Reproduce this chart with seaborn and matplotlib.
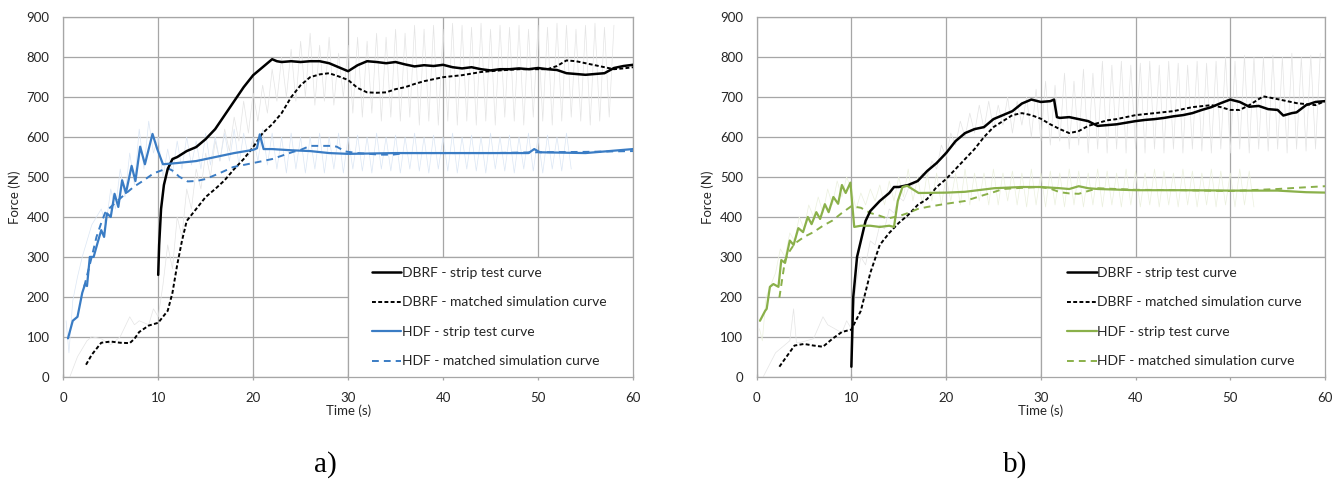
import numpy as np
import pandas as pd
import matplotlib
matplotlib.use("Agg")
import matplotlib.pyplot as plt
from matplotlib.lines import Line2D
from matplotlib.patches import Rectangle
import seaborn as sns

# ---------------- data ----------------
# Panel a)
a_dbrf_strip_t = [10, 10.1, 10.3, 10.6, 11, 11.5, 12, 13, 14, 15, 16, 17, 18, 19, 20, 21, 22, 22.5, 23, 24,
                  25, 26, 27, 28, 29, 30, 31, 32, 33, 34, 35, 36, 37, 38, 39, 40, 41, 42, 43, 44, 45, 46, 47,
                  48, 49, 50, 51, 52, 53, 54, 55, 56, 57, 58, 59, 60]
a_dbrf_strip_f = [255, 330, 420, 480, 520, 545, 550, 565, 575, 595, 620, 655, 690, 725, 755, 775, 795, 790, 788, 790,
                  788, 790, 790, 785, 775, 765, 780, 790, 788, 785, 788, 782, 777, 780, 778, 781, 775, 772, 775,
                  770, 767, 770, 770, 772, 770, 773, 770, 768, 760, 758, 756, 758, 760, 773, 778, 781]

a_dbrf_sim_t = [2.4, 3, 4, 5, 6, 7, 7.5, 8, 9, 10, 11, 11.5, 12, 12.5, 13, 14, 15, 16, 17, 18, 19, 20, 21, 22,
                23, 24, 25, 26, 27, 28, 29, 30, 31, 32, 33, 34, 35, 36, 37, 38, 39, 40, 42, 44, 46, 48, 50, 51,
                52, 53, 54, 55, 56, 57, 58, 59, 60]
a_dbrf_sim_f = [30, 55, 85, 88, 85, 84, 95, 112, 128, 135, 165, 210, 280, 340, 390, 420, 450, 470, 492, 520, 545,
                575, 610, 632, 660, 700, 730, 750, 757, 760, 752, 743, 723, 712, 711, 712, 720, 725, 733, 740,
                745, 750, 755, 763, 767, 770, 770, 770, 778, 792, 790, 785, 780, 775, 770, 772, 775]

a_hdf_strip_t = [0.5, 1, 1.5, 2, 2.3, 2.5, 2.8, 3.2, 3.6, 4, 4.3, 4.6, 5, 5.4, 5.8, 6.2, 6.6, 7.2, 7.6, 8.1, 8.6,
                 9.4, 9.9, 10.5, 12, 14, 16, 18, 20, 20.4, 20.7, 21.1, 22, 24, 26, 28, 30, 35, 40, 45, 49, 49.6,
                 50.2, 55, 60]
a_hdf_strip_f = [96, 140, 150, 210, 232, 227, 300, 300, 334, 367, 350, 409, 400, 458, 425, 492, 460, 528, 490, 576,
                 532, 608, 570, 532, 535, 540, 550, 560, 568, 572, 607, 570, 570, 567, 565, 560, 558, 560, 560,
                 560, 560, 570, 562, 560, 570]

a_hdf_sim_t = [2.2, 3, 3.5, 4, 4.4, 5, 5.6, 6.5, 7.4, 8.5, 9.5, 10.5, 11, 11.6, 12.2, 13.1, 14, 15, 16.5, 17.9,
               20, 22, 24.2, 25, 26, 27, 28.3, 28.8, 29.7, 31, 33.4, 34.7, 36, 40, 45, 50, 55, 60]
a_hdf_sim_f = [225, 300, 350, 385, 410, 425, 438, 457, 475, 492, 509, 518, 522, 515, 501, 489, 490, 495, 510, 525,
               535, 545, 563, 568, 578, 578, 578, 576, 564, 560, 556, 556, 560, 560, 560, 562, 563, 565]

# faint raw records (panel a): early points with their times, then samples every 0.5 s from 10.5 s
a_raw_dbrf_t0 = [0.7, 1.5, 2.5, 3, 4, 5, 6, 7, 7.5, 8, 9, 9.5, 10]
a_raw_dbrf_f = [0, 50, 90, 100, 95, 80, 100, 150, 130, 140, 130, 170, 150,
                230, 330, 270, 400, 350, 470, 420, 520, 470, 560, 500, 590, 540, 620, 565, 650, 590, 690, 610,
                710, 640, 730, 660, 770, 690, 800, 700, 820, 690, 840, 700, 860, 680, 830, 690, 850, 680, 810,
                700, 830, 660, 850, 650, 840, 660, 860, 640, 850, 650, 870, 640, 860, 650, 880, 630, 870, 640,
                880, 630, 870, 640, 885, 630, 880, 640, 875, 630, 885, 640, 870, 630, 880, 650, 875, 640, 880,
                630, 870, 650, 880, 640, 875, 630, 885, 640, 880, 650, 870, 640, 880, 630, 885, 640, 875, 650,
                880]
a_raw_hdf_t0 = [0.3, 0.6, 1.0, 1.5, 2.0, 2.5, 3.0, 3.5, 4.0, 4.5, 5.0, 5.5, 6.0, 6.5, 7.0, 7.5, 8.0, 8.5, 9.0,
                9.5, 10.0]
a_raw_hdf_f = [140, 60, 190, 250, 300, 340, 380, 400, 420, 380, 470, 420, 520, 450, 560, 480, 620, 520, 640, 560,
               600,
               500, 570, 510, 590, 520, 600, 530, 590, 520, 610, 530, 600, 540, 610, 540, 620, 530, 610, 550,
               600, 540, 620, 530, 610, 520, 600, 510, 610, 520, 600, 510, 600, 520, 610, 510, 600, 520, 610,
               510, 600, 520, 605, 515, 600, 510, 610, 520, 600, 515, 605, 510, 600, 520, 610, 515, 600, 510,
               605, 520, 600, 515, 610, 510, 600, 520, 605, 515, 600, 510, 610, 520, 600, 515, 605, 510, 600,
               520, 610, 515, 600, 510, 605, 520, 600, 515, 610, 520]

# Panel b)
b_dbrf_strip_t = [10, 10.2, 10.6, 11, 11.5, 12, 13, 14, 14.5, 15, 16, 17, 18, 19, 20, 21, 22, 23, 24, 25, 26, 27,
                  28, 29, 30, 31, 31.4, 31.7, 32, 33, 34, 35, 36, 37, 38, 39, 40, 41, 42, 43, 44, 45, 46, 47, 48,
                  49, 50, 51, 52, 53, 54, 55, 55.6, 56.5, 57, 58, 59, 60]
b_dbrf_strip_f = [25, 200, 300, 340, 390, 415, 440, 460, 475, 475, 480, 490, 515, 535, 560, 590, 610, 620, 625, 645,
                  655, 665, 684, 694, 688, 690, 694, 650, 648, 650, 645, 640, 628, 630, 632, 636, 640, 643, 645,
                  648, 652, 655, 660, 668, 675, 685, 694, 688, 676, 678, 670, 668, 654, 660, 662, 680, 688, 690]

b_dbrf_sim_t = [2.4, 3, 4, 5, 6, 7, 8, 9, 10, 11, 12, 13, 14, 15, 16, 17, 18, 19, 20, 21, 22, 23, 24, 25, 26, 27,
                28, 29, 30, 31, 32, 33, 34, 35, 36, 37, 38, 40, 42, 44, 46, 48, 49, 50, 51, 52, 53, 53.5, 55, 57,
                59, 60]
b_dbrf_sim_f = [25, 45, 78, 82, 78, 75, 95, 112, 118, 165, 260, 330, 360, 385, 405, 430, 445, 475, 495, 520, 545,
                570, 600, 625, 640, 655, 660, 655, 646, 632, 620, 610, 615, 628, 635, 642, 645, 655, 660, 665,
                675, 680, 675, 668, 668, 680, 695, 702, 695, 685, 680, 690]

b_hdf_strip_t = [0.35, 0.9, 1.06, 1.4, 1.77, 2.3, 2.6, 3.0, 3.5, 3.9, 4.4, 4.9, 5.4, 5.8, 6.3, 6.7, 7.2, 7.6,
                 8.1, 8.6, 9.0, 9.4, 9.9, 10.3, 11, 12, 13, 14, 14.5, 14.9, 15.4, 15.9, 17.1, 20.1, 22, 25.1, 28,
                 30, 32, 33, 34, 35, 36, 40, 45, 50, 55, 58, 60]
b_hdf_strip_f = [140, 165, 170, 225, 232, 225, 292, 285, 341, 330, 372, 362, 400, 382, 412, 395, 432, 412, 450,
                 433, 480, 460, 486, 375, 378, 378, 375, 378, 375, 440, 475, 478, 460, 461, 463, 472, 475, 475,
                 472, 470, 477, 472, 470, 467, 467, 466, 466, 462, 461]

b_hdf_sim_t = [2.4, 3, 3.5, 4, 5, 6, 7, 8, 9, 10, 11, 12, 13, 13.8, 15, 16, 17, 18, 20, 22, 24, 25, 26, 28,
               29.9, 31, 32, 33, 34, 35, 36, 38, 40, 45, 50, 55, 57, 60]
b_hdf_sim_f = [198, 292, 315, 333, 350, 362, 378, 391, 410, 427, 423, 410, 403, 396, 402, 410, 420, 425, 433, 440,
               455, 462, 470, 473, 475, 471, 462, 459, 458, 465, 472, 470, 468, 467, 465, 470, 473, 477]

# faint raw records (panel b)
b_raw_dbrf_t0 = [0.7, 2, 3.5, 3.9, 4.2, 4.5, 6, 7, 7.5, 9, 9.5, 10]
b_raw_dbrf_f = [0, 60, 90, 170, 85, 85, 95, 150, 130, 110, 140, 120,
                230, 300, 280, 340, 330, 380, 370, 420, 410, 450, 440, 470, 480, 490, 510, 500, 540, 520, 580,
                550, 610, 580, 640, 600, 660, 610, 680, 620, 690, 620, 680, 630, 700, 610, 690, 630, 700, 600,
                720, 590, 740, 580, 730, 590, 760, 570, 740, 580, 770, 560, 760, 570, 790, 560, 780, 570, 790,
                560, 780, 570, 785, 560, 790, 570, 780, 560, 790, 570, 785, 560, 780, 570, 790, 565, 785, 560,
                790, 570, 800, 560, 790, 570, 805, 560, 800, 570, 800, 565, 805, 570, 800, 560, 810, 570, 800,
                565, 805, 570, 810]
b_raw_hdf_t0 = [0.3, 0.6, 1.0, 1.5, 2.0, 2.5, 3.0, 3.5, 4.0, 4.5, 5.0, 5.5, 6.0, 6.5, 7.0, 7.5, 8.0, 8.5, 9.0,
                9.5, 10.0]
b_raw_hdf_f = [120, 90, 200, 230, 260, 320, 300, 360, 340, 400, 370, 430, 400, 450, 410, 470, 430, 490, 450, 500,
               470,
               420, 460, 430, 470, 440, 480, 430, 490, 440, 500, 450, 520, 440, 500, 430, 510, 440, 510, 430,
               500, 440, 510, 430, 520, 430, 510, 440, 510, 430, 520, 430, 510, 440, 515, 430, 510, 425, 520,
               430, 510, 425, 515, 430, 510, 425, 520, 430, 515, 425, 510, 430, 520, 425, 515, 430, 510, 425,
               520, 430, 515, 425, 510, 430, 520, 425, 515, 430, 510, 425, 520, 430, 515, 425, 510, 430, 520,
               425, 515, 430, 510, 425, 520, 430, 515, 425]

legend_labels = ["DBRF - strip test curve", "DBRF - matched simulation curve",
                 "HDF - strip test curve", "HDF - matched simulation curve"]
x_ticks = [0, 10, 20, 30, 40, 50, 60]
y_ticks = [0, 100, 200, 300, 400, 500, 600, 700, 800, 900]


def raw_times(t0, f):
    n = len(f) - len(t0)
    return list(t0) + [10.5 + 0.5 * i for i in range(n)]


# ---------------- styling ----------------
sns.set_theme(style="white")
plt.rcParams['font.family'] = ['Lato', 'DejaVu Sans']

BLUE = "#3a7cc4"
GREEN = "#8ab04a"
GRID = "#a6a6a6"
TEXT = "#262626"
DASH_DBRF = (0, (2.0, 1.2))
DASH_HDF = (0, (3.5, 2.6))

fig = plt.figure(figsize=(13.43, 4.83), dpi=100)
axL = fig.add_axes([0.0471, 0.2201, 0.4242, 0.7441])
axR = fig.add_axes([0.5634, 0.2201, 0.4232, 0.7441])


def line(ax, t, f, **kw):
    df = pd.DataFrame({"t": t, "f": f})
    sns.lineplot(data=df, x="t", y="f", ax=ax, sort=False, estimator=None, **kw)


def panel(ax, raw_dt0, raw_df, raw_ht0, raw_hf, dst, dsf, dmt, dmf, hst, hsf, hmt, hmf, col, rawcol,
          leg_x):
    line(ax, raw_times(raw_dt0, raw_df), raw_df, color="#e4e4e4", lw=0.5, zorder=1)
    line(ax, raw_times(raw_ht0, raw_hf), raw_hf, color=rawcol, lw=0.5, zorder=1)
    line(ax, dmt, dmf, color="black", lw=1.4, linestyle=DASH_DBRF, zorder=4)
    line(ax, hmt, hmf, color=col, lw=1.4, linestyle=DASH_HDF, zorder=4)
    line(ax, dst, dsf, color="black", lw=1.8, zorder=5)
    line(ax, hst, hsf, color=col, lw=1.6, zorder=5)

    ax.set_xlim(0, 60)
    ax.set_ylim(0, 900)
    ax.set_xticks(x_ticks)
    ax.set_yticks(y_ticks)
    ax.grid(True, color=GRID, lw=0.9, zorder=0)
    ax.set_axisbelow(True)
    for s in ax.spines.values():
        s.set_color(GRID)
        s.set_linewidth(0.9)
    ax.tick_params(axis="x", bottom=True, length=5, width=0.9, color=GRID, labelsize=9.5,
                   labelcolor=TEXT, pad=8.5, direction="inout")
    ax.tick_params(axis="y", left=False, length=0, labelsize=9.5, labelcolor=TEXT, pad=10)
    ax.set_xlabel("Time (s)", fontsize=9.5, color=TEXT, labelpad=0)
    ax.set_ylabel("Force (N)", fontsize=9.5, color=TEXT, labelpad=4)

    # legend area: white box covering the lower-right grid cells
    ax.add_patch(Rectangle((30, 0), 30, 300, facecolor="white", edgecolor=GRID, lw=0.9, zorder=8))
    handles = [Line2D([], [], color="black", lw=1.8),
               Line2D([], [], color="black", lw=1.4, linestyle=DASH_DBRF),
               Line2D([], [], color=col, lw=1.6),
               Line2D([], [], color=col, lw=1.4, linestyle=DASH_HDF)]
    leg = ax.legend(handles, legend_labels, loc="upper left", bbox_to_anchor=(leg_x, 275),
                    bbox_transform=ax.transData, frameon=False, fontsize=10,
                    handlelength=2.1, handletextpad=0.05, labelspacing=1.26, borderpad=0.0,
                    borderaxespad=0.0)
    for txt in leg.get_texts():
        txt.set_color(TEXT)
    leg.set_zorder(10)


panel(axL, a_raw_dbrf_t0, a_raw_dbrf_f, a_raw_hdf_t0, a_raw_hdf_f,
      a_dbrf_strip_t, a_dbrf_strip_f, a_dbrf_sim_t, a_dbrf_sim_f,
      a_hdf_strip_t, a_hdf_strip_f, a_hdf_sim_t, a_hdf_sim_f, BLUE, "#dbe6f4", 32.5)
panel(axR, b_raw_dbrf_t0, b_raw_dbrf_f, b_raw_hdf_t0, b_raw_hdf_f,
      b_dbrf_strip_t, b_dbrf_strip_f, b_dbrf_sim_t, b_dbrf_sim_f,
      b_hdf_strip_t, b_hdf_strip_f, b_hdf_sim_t, b_hdf_sim_f, GREEN, "#ebf0de", 32.8)

fig.text(325 / 1343, 1 - 465 / 483, "a)", fontsize=21, family=["Liberation Serif", "DejaVu Serif"],
         ha="center", va="center", color="black")
fig.text(1015 / 1343, 1 - 465 / 483, "b)", fontsize=21, family=["Liberation Serif", "DejaVu Serif"],
         ha="center", va="center", color="black")

fig.savefig("out.png", dpi=100)
